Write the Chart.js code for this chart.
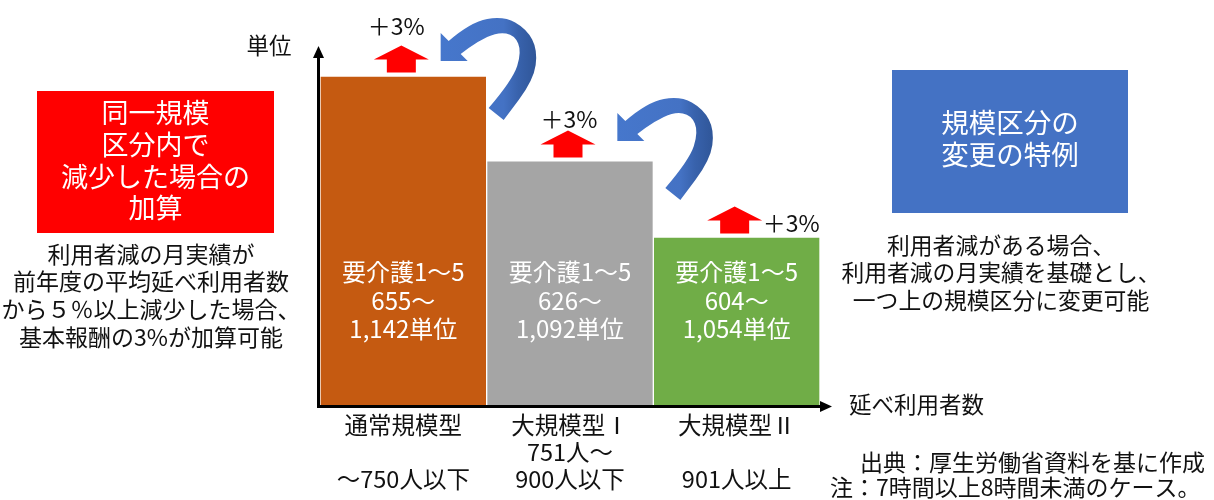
<!DOCTYPE html>
<html lang="ja">
<head>
<meta charset="utf-8">
<script src="https://cdn.jsdelivr.net/npm/chart.js@4"></script>
<style>
  html, body { margin: 0; padding: 0; background: #fff; }
  #wrap { width: 1214px; height: 500px; }
</style>
</head>
<body>
<div id="wrap"><canvas id="scaleChart" width="1214" height="500"></canvas></div>
<script>
// data
const sizeTypes = ["通常規模型", "大規模型Ⅰ", "大規模型Ⅱ"];
const userRanges = [["", "～750人以下"], ["751人～", "900人以下"], ["", "901人以上"]];
const barHeights = [90.4, 67.1, 46.2];   // bar height on the 単位 axis (no numeric ticks shown)
const careLevel = "要介護1～5";
const unitMin = [655, 626, 604];
const unitMax = [1142, 1092, 1054];
const addRate = ["＋3%", "＋3%", "＋3%"];
const barColors = ["#C55A11", "#A5A5A5", "#70AD47"];

const leftBoxLines = ["同一規模", "区分内で", "減少した場合の", "加算"];
const leftNoteLines = ["利用者減の月実績が", "前年度の平均延べ利用者数", "から５％以上減少した場合、", "基本報酬の3%が加算可能"];
const rightBoxLines = ["規模区分の", "変更の特例"];
const rightNoteLines = ["利用者減がある場合、", "利用者減の月実績を基礎とし、", "一つ上の規模区分に変更可能"];
const sourceLines = ["出典：厚生労働省資料を基に作成", "注：7時間以上8時間未満のケース。"];

const JP = '"Noto Sans CJK JP", "Noto Sans", sans-serif';
const labels = sizeTypes.map((t, i) => [t, userRanges[i][0], userRanges[i][1]]);

function font(size) { return size + "px " + JP; }

function textLines(ctx, lines, x, y0, step, size, color, align) {
    ctx.font = font(size);
    ctx.fillStyle = color;
    ctx.textAlign = align || "center";
    ctx.textBaseline = "middle";
    lines.forEach((s, i) => ctx.fillText(s, x, y0 + i * step));
}

// smooth curve through a list of points (quadratic through midpoints)
function curveThrough(ctx, pts) {
    for (let i = 1; i < pts.length - 1; i++) {
        const mx = (pts[i][0] + pts[i + 1][0]) / 2;
        const my = (pts[i][1] + pts[i + 1][1]) / 2;
        ctx.quadraticCurveTo(pts[i][0], pts[i][1], mx, my);
    }
    const last = pts[pts.length - 1];
    ctx.lineTo(last[0], last[1]);
}

function upArrow(ctx, cx, bottom) {
    ctx.fillStyle = "#FF0000";
    ctx.beginPath();
    ctx.moveTo(cx - 14.5, bottom);
    ctx.lineTo(cx - 14.5, bottom - 13);
    ctx.lineTo(cx - 27.5, bottom - 13);
    ctx.lineTo(cx, bottom - 27);
    ctx.lineTo(cx + 27.5, bottom - 13);
    ctx.lineTo(cx + 14.5, bottom - 13);
    ctx.lineTo(cx + 14.5, bottom);
    ctx.closePath();
    ctx.fill();
}

function curvedArrow(ctx, ox, oy) {
    const outer = [[8, -20], [30, -39], [63, -45], [86, -32], [97, -11], [93, 19], [63, 59]];
    const inner = [[48, 47], [72, 19], [81, -9], [74, -26], [57, -29], [36, -19], [20, -7]];
    ctx.save();
    ctx.translate(ox, oy);
    const g = ctx.createLinearGradient(0, 0, 97, 0);
    g.addColorStop(0, "#4677CC");
    g.addColorStop(0.65, "#4472C4");
    g.addColorStop(0.8, "#3862AC");
    g.addColorStop(1, "#2F5597");
    ctx.fillStyle = g;
    ctx.beginPath();
    ctx.moveTo(0, 0);
    ctx.lineTo(0, -28);
    ctx.lineTo(outer[0][0], outer[0][1]);
    curveThrough(ctx, outer);
    ctx.lineTo(inner[0][0], inner[0][1]);
    curveThrough(ctx, inner);
    ctx.lineTo(27, 0);
    ctx.closePath();
    ctx.fill();
    ctx.restore();
}

const decorations = {
    id: "decorations",
    afterDraw(chart) {
        const ctx = chart.ctx;
        const area = chart.chartArea;
        const bars = chart.getDatasetMeta(0).data;
        ctx.save();

        // axes with arrow heads
        const ax = area.left - 1.5;
        const ay = area.bottom + 1;
        ctx.strokeStyle = "#000";
        ctx.fillStyle = "#000";
        ctx.lineWidth = 3;
        ctx.beginPath();
        ctx.moveTo(ax, ay + 1.5);
        ctx.lineTo(ax, 56);
        ctx.moveTo(ax - 1.5, ay);
        ctx.lineTo(area.right + 2, ay);
        ctx.stroke();
        ctx.beginPath();
        ctx.moveTo(ax, 46);
        ctx.lineTo(ax - 5.5, 58);
        ctx.lineTo(ax + 5.5, 58);
        ctx.closePath();
        ctx.fill();
        ctx.beginPath();
        ctx.moveTo(area.right + 12, ay);
        ctx.lineTo(area.right, ay - 5.5);
        ctx.lineTo(area.right, ay + 5.5);
        ctx.closePath();
        ctx.fill();

        textLines(ctx, ["単位"], 269, 45, 0, 22.5, "#111");
        textLines(ctx, ["延べ利用者数"], 849, 404, 0, 22.5, "#111", "left");

        // bar contents, +3% arrows
        const rateOffsets = [[-7, -50, "center"], [-1, -42, "center"], [26, -14, "left"]];
        bars.forEach((bar, i) => {
            const p = bar.getProps(["x", "y"], true);
            textLines(ctx, [careLevel, unitMin[i] + "～", unitMax[i].toLocaleString("en-US") + "単位"],
                p.x, 272, 28.5, 24, "#fff");
            upArrow(ctx, p.x - 2, p.y - 3.5);
            const o = rateOffsets[i];
            textLines(ctx, [addRate[i]], p.x + o[0], p.y + o[1], 0, 23, "#111", o[2]);
        });

        // blue curved arrows: step up to the next size class
        const turnOffsets = [[-46, -15], [-36, -20]];
        turnOffsets.forEach((o, i) => {
            const p = bars[i].getProps(["x", "y", "width"], true);
            curvedArrow(ctx, p.x + p.width / 2 + o[0], p.y + o[1]);
        });

        // left panel
        ctx.fillStyle = "#FF0000";
        ctx.fillRect(37, 91, 237, 142);
        textLines(ctx, leftBoxLines, 155.5, 113, 31.7, 27, "#fff");
        textLines(ctx, leftNoteLines, 151, 254, 27.7, 23, "#111");

        // right panel
        ctx.fillStyle = "#4472C4";
        ctx.fillRect(892, 70, 236, 143);
        textLines(ctx, rightBoxLines, 1010, 123, 32, 27.5, "#fff");
        textLines(ctx, rightNoteLines, 1001, 245, 27.5, 22.8, "#111");

        textLines(ctx, [sourceLines[0]], 860, 462, 0, 23, "#111", "left");
        textLines(ctx, [sourceLines[1]], 830, 487, 0, 23, "#111", "left");

        ctx.restore();
    }
};

document.addEventListener("DOMContentLoaded", function () {
    const scaleChart = document.getElementById("scaleChart").getContext("2d");

    new Chart(scaleChart, {
        type: "bar",
        data: {
            labels: labels,
            datasets: [{
                data: barHeights,
                backgroundColor: barColors,
                borderColor: "#ffffff",
                borderWidth: 1,
                barPercentage: 1,
                categoryPercentage: 1
            }]
        },
        options: {
            responsive: false,
            animation: false,
            devicePixelRatio: 1,
            layout: { padding: { left: 320, right: 394, top: 41, bottom: 1.5 } },
            plugins: { legend: { display: false }, tooltip: { enabled: false } },
            scales: {
                x: {
                    grid: { display: false, drawTicks: false },
                    border: { display: false },
                    ticks: {
                        padding: 6,
                        color: "#111",
                        maxRotation: 0,
                        autoSkip: false,
                        font: { family: JP, size: 23.5, lineHeight: "27px" }
                    }
                },
                y: { display: false, min: 0, max: 100 }
            }
        },
        plugins: [decorations]
    });
});
</script>
</body>
</html>
